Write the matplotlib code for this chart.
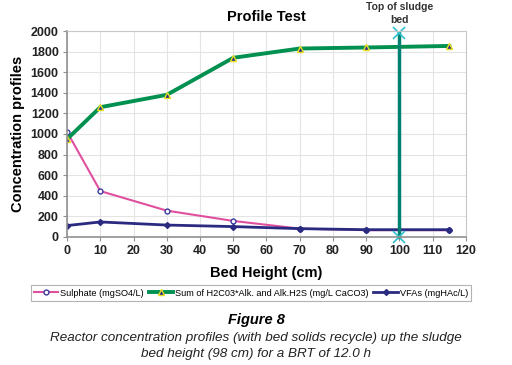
import matplotlib
matplotlib.use('Agg')
import matplotlib.pyplot as plt

plt.rcParams['font.family'] = ['Liberation Sans', 'DejaVu Sans']

height = [0, 10, 30, 50, 70, 90, 115]
sulphate = [1020, 445, 255, 155, 80, 65, 65]
alkalinity = [950, 1260, 1380, 1740, 1830, 1840, 1855]
vfas = [110, 145, 115, 100, 80, 70, 70]

bed_top = 100
bed_line = [0, 1985]

fig = plt.figure(figsize=(5.12, 3.65), dpi=100)
ax = fig.add_axes([0.131, 0.351, 0.779, 0.564])

ax.plot(height, sulphate, color='#e0509f', lw=1.5, marker='o', ms=3.5,
        mfc='white', mec='#3a3aa0', mew=1, label='Sulphate (mgSO4/L)')
ax.plot(height, alkalinity, color='#009050', lw=2.8, marker='^', ms=4,
        mfc='#2a2a90', mec='#e8e020', mew=1,
        label='Sum of H2C03*Alk. and Alk.H2S (mg/L CaCO3)')
ax.plot(height, vfas, color='#2a2a80', lw=2, marker='D', ms=3,
        mfc='#2a2a80', mec='#2a2a80', label='VFAs (mgHAc/L)')
ax.plot([bed_top, bed_top], bed_line, color='#008070', lw=2.5,
        marker='x', ms=8, mec='#30c0d0', mew=1.2, clip_on=False)

ax.set_xlim(0, 120)
ax.set_ylim(0, 2000)
ax.set_xticks(range(0, 121, 10))
ax.set_yticks(range(0, 2001, 200))
ax.grid(True, color='#e4e4e4', lw=0.8)
ax.set_axisbelow(True)
for s in ['left', 'bottom']:
    ax.spines[s].set_color('#909090')
    ax.spines[s].set_linewidth(1.2)
for s in ['right', 'top']:
    ax.spines[s].set_color('#c8c8c8')
ax.tick_params(labelsize=9, length=3, color='#909090', pad=3)
for lbl in ax.get_xticklabels() + ax.get_yticklabels():
    lbl.set_fontweight('bold')
    lbl.set_color('#222222')

ax.set_title('Profile Test', fontsize=10.5, fontweight='bold', pad=7)
ax.set_xlabel('Bed Height (cm)', fontsize=10.5, fontweight='bold', labelpad=6)
ax.set_ylabel('Concentration profiles', fontsize=10.5, fontweight='bold', labelpad=4)
ax.text(bed_top, 2055, 'Top of sludge\nbed', ha='center', va='bottom',
        fontsize=7.5, fontweight='bold', color='#333333', linespacing=1.45)

leg = fig.legend(loc='center', bbox_to_anchor=(0.49, 0.197), ncol=3,
                 fontsize=6.6, frameon=True, fancybox=False, handlelength=2.7,
                 handletextpad=0.2, columnspacing=0.5, borderpad=0.35)
leg.get_frame().set_edgecolor('#a0a0a0')
leg.get_frame().set_linewidth(0.8)

fig.text(0.5, 0.123, 'Figure 8', ha='center', va='center', fontsize=10.5,
         fontweight='bold', style='italic')
fig.text(0.5, 0.074, 'Reactor concentration profiles (with bed solids recycle) up the sludge',
         ha='center', va='center', fontsize=9.7, style='italic', color='#222222')
fig.text(0.5, 0.030, 'bed height (98 cm) for a BRT of 12.0 h',
         ha='center', va='center', fontsize=9.7, style='italic', color='#222222')

fig.savefig('out.png', dpi=100)
